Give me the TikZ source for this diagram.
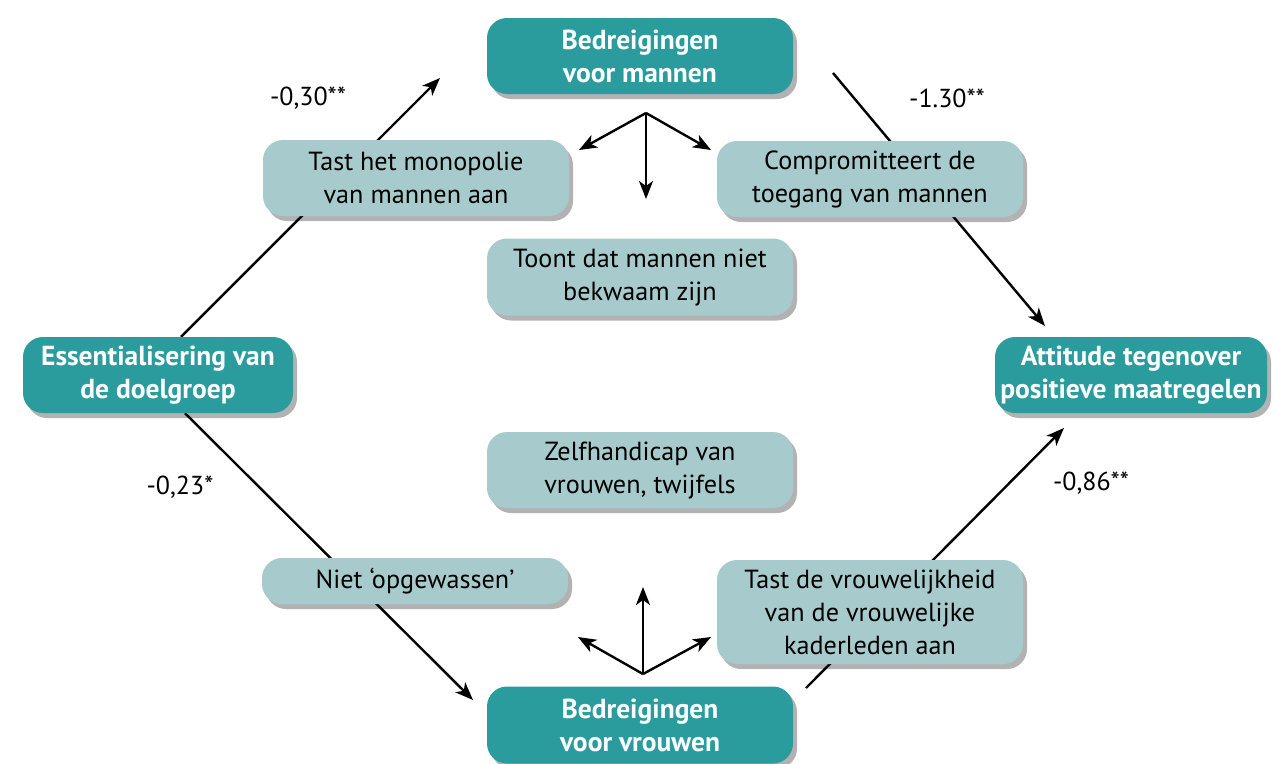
\documentclass[tikz,border=0pt]{standalone}
\usepackage{fontspec}
\setmainfont{PT Sans}
\usepackage{xcolor}
\usetikzlibrary{shapes.geometric, arrows, arrows.meta, shadows, backgrounds}
\definecolor{darkteal}{HTML}{2A9C9E}
\definecolor{paleteal}{HTML}{A7CBCD}
\tikzstyle{every node}=[font=\fontsize{26.2}{33}\selectfont]
\tikzstyle{block} = [rectangle, fill=paleteal, align=center, inner sep=0pt, rounded corners=20pt, minimum width=306pt, minimum height=76pt, drop shadow={shadow xshift=4pt, shadow yshift=-5pt, fill=black, opacity=0.3}]
\tikzstyle{mainblock} = [block, fill=darkteal, text=white, font=\fontsize{27.5}{33}\selectfont\bfseries]
\tikzstyle{coef} = [font=\fontsize{26}{30}\selectfont]
\tikzstyle{line} = [draw, line width=2.4pt, -{Stealth[length=18pt, width=14pt, inset=5pt]}]

\begin{document}
\begin{tikzpicture}[x=1pt, y=-1pt]
    \useasboundingbox (0,0) rectangle (1274,763);
    % Place nodes
    \node [mainblock] (mannen) at (640,56) {Bedreigingen\\voor mannen};
    \node [block] (monopolie) at (416,178) {Tast het monopolie\\van mannen aan};
    \node [block] (toegang) at (870,179) {Compromitteert de\\toegang van mannen};
    \node [block, minimum height=77pt] (bekwaam) at (640,277) {Toont dat mannen niet\\bekwaam zijn};
    \node [mainblock, minimum width=270pt] (essent) at (158,375) {Essentialisering van\\de doelgroep};
    \node [mainblock, minimum width=272pt] (attitude) at (1131,375) {Attitude tegenover\\positieve maatregelen};
    \node [block] (zelf) at (640,470) {Zelfhandicap van\\vrouwen, twijfels};
    \node [block, minimum height=46pt] (opgewassen) at (415,581) {Niet `opgewassen'};
    \node [block, minimum height=104pt] (vrouwelijk) at (870,612) {Tast de vrouwelijkheid\\van de vrouwelijke\\kaderleden aan};
    \node [mainblock, minimum height=77pt] (vrouwen) at (640,725) {Bedreigingen\\voor vrouwen};
    % Coefficients
    \node [coef] (c1) at (308,98) {-0,30**};
    \node [coef] (c2) at (947,98) {-1.30**};
    \node [coef] (c3) at (180,487) {-0,23*};
    \node [coef] (c4) at (1091,483) {-0,86**};
    % Free ends
    \coordinate (mannentip) at (440,78);
    \coordinate (mannenout) at (833,73);
    \coordinate (attitudetop) at (1045,326);
    \coordinate (vrouwentip) at (473,700);
    \coordinate (vrouwenout) at (806,688);
    \coordinate (attitudebot) at (1064,428);
    \coordinate (fanm) at (646,113);
    \coordinate (fanmleft) at (579,150);
    \coordinate (fanmdown) at (646,199);
    \coordinate (fanmright) at (711,150);
    \coordinate (fanv) at (643,674);
    \coordinate (fanvleft) at (578,637);
    \coordinate (fanvup) at (643,587);
    \coordinate (fanvright) at (711,637);
    % Draw edges
    \begin{pgfonlayer}{background}
    \path [line] ([xshift=23pt]essent.north) -- (mannentip);
    \path [line] (mannenout) -- (attitudetop);
    \path [line] ([xshift=27pt]essent.south) -- (vrouwentip);
    \path [line] (vrouwenout) -- (attitudebot);
    \end{pgfonlayer}
    \path [line] (fanm) -- (fanmleft);
    \path [line] (fanm) -- (fanmdown);
    \path [line] (fanm) -- (fanmright);
    \path [line] (fanv) -- (fanvleft);
    \path [line] (fanv) -- (fanvup);
    \path [line] (fanv) -- (fanvright);
\end{tikzpicture}
\end{document}
